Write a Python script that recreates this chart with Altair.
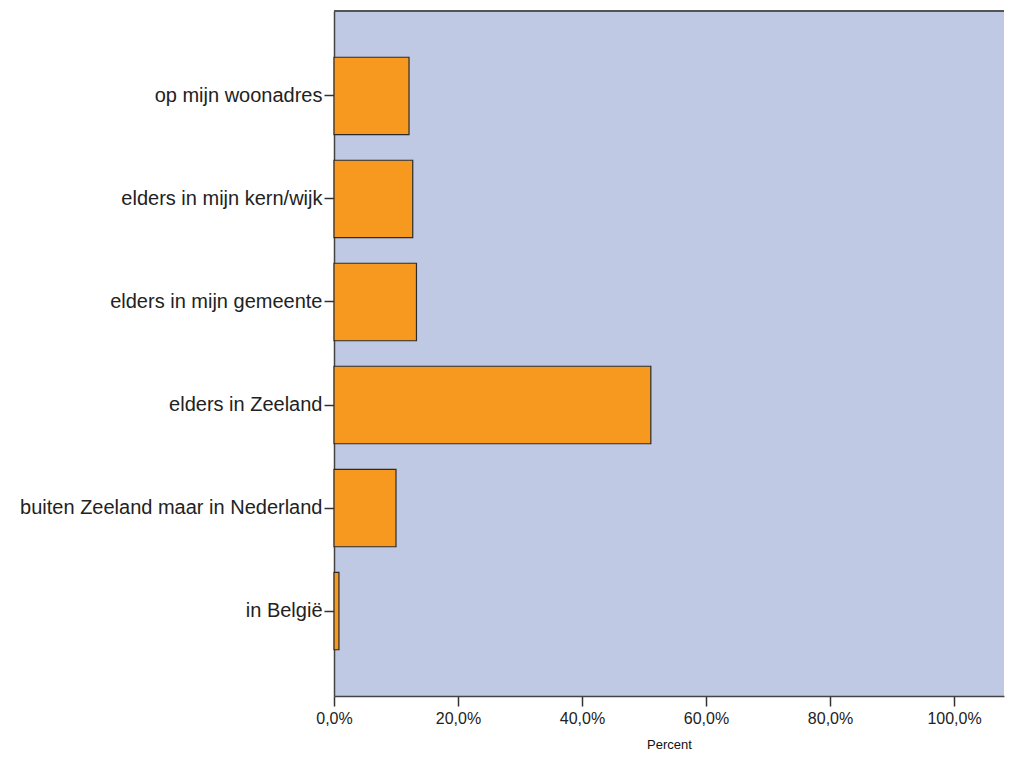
import altair as alt
import pandas as pd

categories = [
    "op mijn woonadres",
    "elders in mijn kern/wijk",
    "elders in mijn gemeente",
    "elders in Zeeland",
    "buiten Zeeland maar in Nederland",
    "in België",
]
percent = [12.1, 12.7, 13.3, 51.1, 10.0, 0.8]
tick_values = [0, 20, 40, 60, 80, 100]

df = pd.DataFrame({"cat": categories, "pct": percent})

W, H = 670, 685
FONT = "Liberation Sans"

bars = alt.Chart(df).mark_bar(
    color="#F7991F", stroke="#2b2b2b", strokeWidth=1.2
).encode(
    x=alt.X(
        "pct:Q",
        scale=alt.Scale(domain=[0, 108.06], nice=False, zero=True),
        axis=alt.Axis(
            values=tick_values,
            labelExpr="replace(format(datum.value, '.1f'), '.', ',') + '%'",
            title="Percent",
            titleFont=FONT,
            titleFontSize=13,
            titleFontWeight="normal",
            titleColor="#111",
            titlePadding=12,
            labelFont=FONT,
            labelFontSize=16,
            labelColor="#222",
            labelPadding=4,
            tickSize=10,
            tickColor="#333",
            tickWidth=1.5,
            domainColor="#444",
            domainWidth=1.5,
            grid=False,
            labelFlush=False,
        ),
    ),
    y=alt.Y(
        "cat:N",
        sort=categories,
        scale=alt.Scale(paddingInner=0.248, paddingOuter=0.449),
        axis=alt.Axis(
            title=None,
            labelFont=FONT,
            labelFontSize=20,
            labelColor="#222",
            labelPadding=2,
            tickSize=10,
            tickColor="#333",
            tickWidth=1.5,
            domainColor="#444",
            domainWidth=1.5,
            minExtent=326,
            maxExtent=326,
            labelLimit=400,
        ),
    ),
)

top_border = alt.Chart(df).mark_rule(color="#555", strokeWidth=1.5).encode(
    x=alt.value(0), x2=alt.value(W), y=alt.value(0)
)

chart = alt.layer(bars, top_border).properties(
    width=W,
    height=H,
    background="white",
    padding={"top": 2, "left": 0, "right": 0, "bottom": 0},
).configure_view(
    fill="#BFC9E3", strokeWidth=0
)

chart.save("out.html", embed_options={"renderer": "svg", "actions": False})
